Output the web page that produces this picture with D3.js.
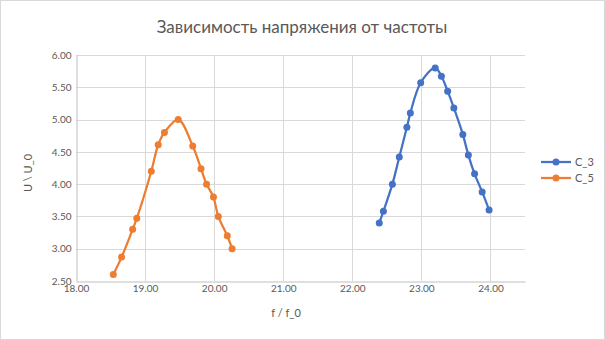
<!DOCTYPE html>
<html>
<head>
<meta charset="utf-8">
<script src="https://cdn.jsdelivr.net/npm/d3@7"></script>
<style>
  body { margin: 0; background: #fff; }
  svg { font-family: Lato, "Open Sans", sans-serif; }
</style>
</head>
<body>
<svg></svg>
<script>
const width = 605;
const height = 340;

const c3F = [22.39, 22.45, 22.58, 22.68, 22.79, 22.84, 22.99, 23.20, 23.29, 23.38, 23.47, 23.60, 23.68, 23.77, 23.88, 23.98];
const c3U = [3.40, 3.58, 4.00, 4.42, 4.88, 5.10, 5.57, 5.80, 5.67, 5.44, 5.18, 4.77, 4.45, 4.16, 3.88, 3.60];
const c5F = [18.54, 18.66, 18.82, 18.88, 19.09, 19.19, 19.28, 19.48, 19.69, 19.81, 19.89, 19.99, 20.06, 20.19, 20.26];
const c5U = [2.60, 2.87, 3.30, 3.47, 4.20, 4.61, 4.80, 5.00, 4.59, 4.24, 4.00, 3.80, 3.50, 3.20, 3.00];
const xTicks = [18, 19, 20, 21, 22, 23, 24];
const yTicks = [2.5, 3, 3.5, 4, 4.5, 5, 5.5, 6];

const series = [
  { name: 'C_3', color: '#4472C4', f: c3F, u: c3U },
  { name: 'C_5', color: '#ED7D31', f: c5F, u: c5U }
];

const margin = { left: 76, right: 80, top: 55, bottom: 59 };
const svg = d3.select('svg').attr('width', width).attr('height', height);

svg.append('rect')
    .attr('x', 0.5).attr('y', 0.5)
    .attr('width', width - 1).attr('height', height - 1)
    .attr('fill', '#fff').attr('stroke', '#d9d9d9');

const x = d3.scaleLinear().domain([18, 24.5]).range([margin.left, width - margin.right]);
const y = d3.scaleLinear().domain([2.5, 6]).range([height - margin.bottom, margin.top]);

// grid
svg.append('g').selectAll('line')
    .data(yTicks.slice(1))
    .enter().append('line')
    .attr('x1', x(18)).attr('x2', x(24.5))
    .attr('y1', d => Math.round(y(d)) + 0.5).attr('y2', d => Math.round(y(d)) + 0.5)
    .attr('stroke', '#d9d9d9');
svg.append('g').selectAll('line')
    .data(xTicks.slice(1))
    .enter().append('line')
    .attr('x1', d => Math.round(x(d)) + 0.5).attr('x2', d => Math.round(x(d)) + 0.5)
    .attr('y1', y(2.5)).attr('y2', y(6))
    .attr('stroke', '#d9d9d9');

// axes
const xAxis = svg.append('g')
    .attr('transform', `translate(0,${Math.round(y(2.5)) + 0.5})`)
    .call(d3.axisBottom(x).tickValues(xTicks).tickFormat(d3.format('.2f')).tickSize(0).tickPadding(3));
const yAxis = svg.append('g')
    .attr('transform', `translate(${Math.round(x(18)) + 0.5},0)`)
    .call(d3.axisLeft(y).tickValues(yTicks).tickFormat(d3.format('.2f')).tickSize(0).tickPadding(5));
[xAxis, yAxis].forEach(a => {
  a.select('.domain').attr('stroke', '#bfbfbf');
  a.selectAll('text').attr('fill', '#595959').style('font-size', '10px').style('font-family', 'Lato, sans-serif');
});

// lines
const line = d3.line()
    .x(d => x(d[0]))
    .y(d => y(d[1]))
    .curve(d3.curveCatmullRom.alpha(0.5));

series.forEach(s => {
  const pts = s.f.map((f, i) => [f, s.u[i]]);
  svg.append('path')
      .datum(pts)
      .attr('d', line)
      .attr('fill', 'none')
      .attr('stroke', s.color)
      .attr('stroke-width', 2.25);
  svg.append('g').selectAll('circle')
      .data(pts)
      .enter().append('circle')
      .attr('cx', d => x(d[0]))
      .attr('cy', d => y(d[1]))
      .attr('r', 3.5)
      .attr('fill', s.color);
});

// title + axis titles
svg.append('text')
    .attr('x', 302).attr('y', 33)
    .attr('text-anchor', 'middle')
    .attr('fill', '#595959')
    .style('font-size', '17px')
    .text('Зависимость напряжения от частоты');

svg.append('text')
    .attr('x', 286).attr('y', 317)
    .attr('text-anchor', 'middle')
    .attr('fill', '#595959')
    .style('font-size', '11px')
    .text('f / f_0');

svg.append('text')
    .attr('transform', 'translate(32,173) rotate(-90)')
    .attr('text-anchor', 'middle')
    .attr('fill', '#595959')
    .style('font-size', '11px')
    .text('U \\ U_0');

// legend
const legend = svg.append('g').selectAll('g')
    .data(series)
    .enter().append('g')
    .attr('transform', (d, i) => `translate(541,${162 + i * 16})`);
legend.append('line')
    .attr('x1', 0).attr('x2', 30)
    .attr('stroke', d => d.color).attr('stroke-width', 2.25);
legend.append('circle')
    .attr('cx', 15).attr('r', 3.5)
    .attr('fill', d => d.color);
legend.append('text')
    .attr('x', 34).attr('dy', '0.35em')
    .attr('fill', '#595959')
    .style('font-size', '11px')
    .text(d => d.name);
</script>
</body>
</html>
